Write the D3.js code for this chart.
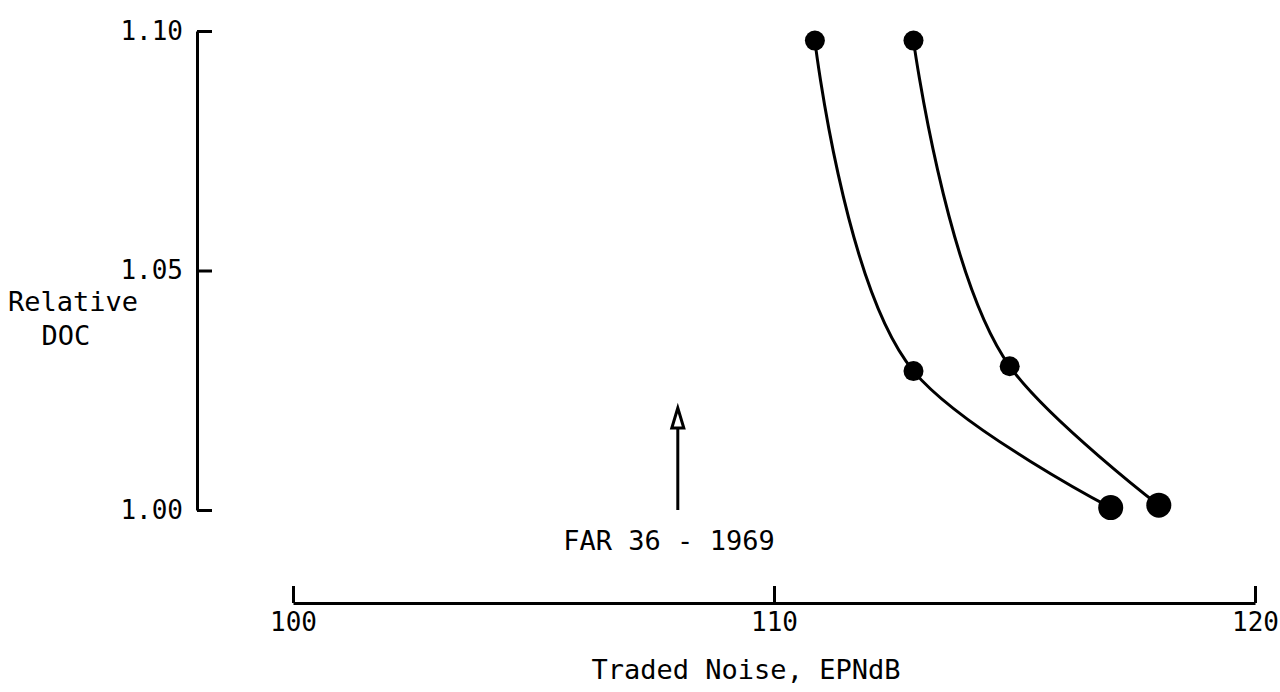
<!DOCTYPE html>
<html>
<head>
<meta charset="utf-8">
<script src="https://cdn.jsdelivr.net/npm/d3@7"></script>
<style>
  html, body { margin: 0; padding: 0; background: #fff; }
  svg { display: block; }
  text { font-family: "DejaVu Sans Mono", "Liberation Mono", monospace; fill: #000; }
</style>
</head>
<body>
<svg id="chart" width="1280" height="692"></svg>
<script>
// Traded noise (EPNdB) against relative direct operating cost, two trade curves
const noiseA = [110.85, 112.9, 117.0];
const docA   = [1.098, 1.029, 1.0005];
const noiseB = [112.9, 114.9, 118.0];
const docB   = [1.098, 1.030, 1.001];

const xTicks = [100, 110, 120];
const yTicks = [1.00, 1.05, 1.10];

// FAR 36 (1969) noise limit marker
const far36Noise = 108;
const far36Label = "FAR 36 - 1969";

const svg = d3.select("#chart");

const x = d3.scaleLinear().domain([100, 120]).range([293, 1255]);
const y = d3.scaleLinear().domain([1.00, 1.10]).range([510, 31]);

const ink = "#000";

// Y axis: ticks point into the plot, labels on the left
const yAxis = svg.append("g")
  .attr("transform", "translate(197,0)")
  .call(d3.axisLeft(y).tickValues(yTicks).tickSize(-15).tickSizeOuter(0)
    .tickPadding(14).tickFormat(d3.format(".2f")));

// X axis sits below the plot; ticks point upward
const xAxis = svg.append("g")
  .attr("transform", "translate(0,603)")
  .call(d3.axisBottom(x).tickValues(xTicks).tickSize(-17).tickSizeOuter(0)
    .tickPadding(10).tickFormat(d3.format("d")));

[yAxis, xAxis].forEach(g => {
  g.select(".domain").attr("stroke", ink).attr("stroke-width", 3);
  g.selectAll(".tick line").attr("stroke", ink).attr("stroke-width", 3);
  g.selectAll(".tick text")
    .attr("font-family", "DejaVu Sans Mono")
    .attr("font-size", 26)
    .attr("fill", ink);
});

// Axis titles
svg.append("text")
  .attr("x", 73).attr("y", 311)
  .attr("text-anchor", "middle")
  .attr("font-size", 27)
  .text("Relative");
svg.append("text")
  .attr("x", 66).attr("y", 345)
  .attr("text-anchor", "middle")
  .attr("font-size", 27)
  .text("DOC");
svg.append("text")
  .attr("x", 746).attr("y", 679)
  .attr("text-anchor", "middle")
  .attr("font-size", 27)
  .text("Traded Noise, EPNdB");

// Trade curves: chordal Catmull-Rom spline through the design points
const line = d3.line()
  .x(d => x(d[0]))
  .y(d => y(d[1]))
  .curve(d3.curveCatmullRom.alpha(1));

const series = [
  d3.zip(noiseA, docA),
  d3.zip(noiseB, docB)
];

svg.append("g")
  .selectAll("path")
  .data(series)
  .join("path")
  .attr("d", line)
  .attr("fill", "none")
  .attr("stroke", ink)
  .attr("stroke-width", 3);

// Design points; the baseline (lowest-cost) point is drawn larger
svg.append("g")
  .selectAll("g")
  .data(series)
  .join("g")
  .selectAll("circle")
  .data(d => d.map((p, i) => ({ p, last: i === d.length - 1 })))
  .join("circle")
  .attr("cx", d => x(d.p[0]))
  .attr("cy", d => y(d.p[1]))
  .attr("r", d => d.last ? 12.5 : 10)
  .attr("fill", ink);

// FAR 36 arrow
const arrowX = x(far36Noise);
const arrowBase = y(1.00);
const arrowTip = y(1.0213);
svg.append("line")
  .attr("x1", arrowX).attr("x2", arrowX)
  .attr("y1", arrowBase).attr("y2", arrowTip + 14)
  .attr("stroke", ink).attr("stroke-width", 3);
svg.append("path")
  .attr("d", `M${arrowX},${arrowTip} L${arrowX - 6},${arrowTip + 20} L${arrowX + 6},${arrowTip + 20} Z`)
  .attr("fill", "#fff")
  .attr("stroke", ink)
  .attr("stroke-width", 3)
  .attr("stroke-linejoin", "miter");

svg.append("text")
  .attr("x", 669).attr("y", 550)
  .attr("text-anchor", "middle")
  .attr("font-size", 27)
  .text(far36Label);
</script>
</body>
</html>
